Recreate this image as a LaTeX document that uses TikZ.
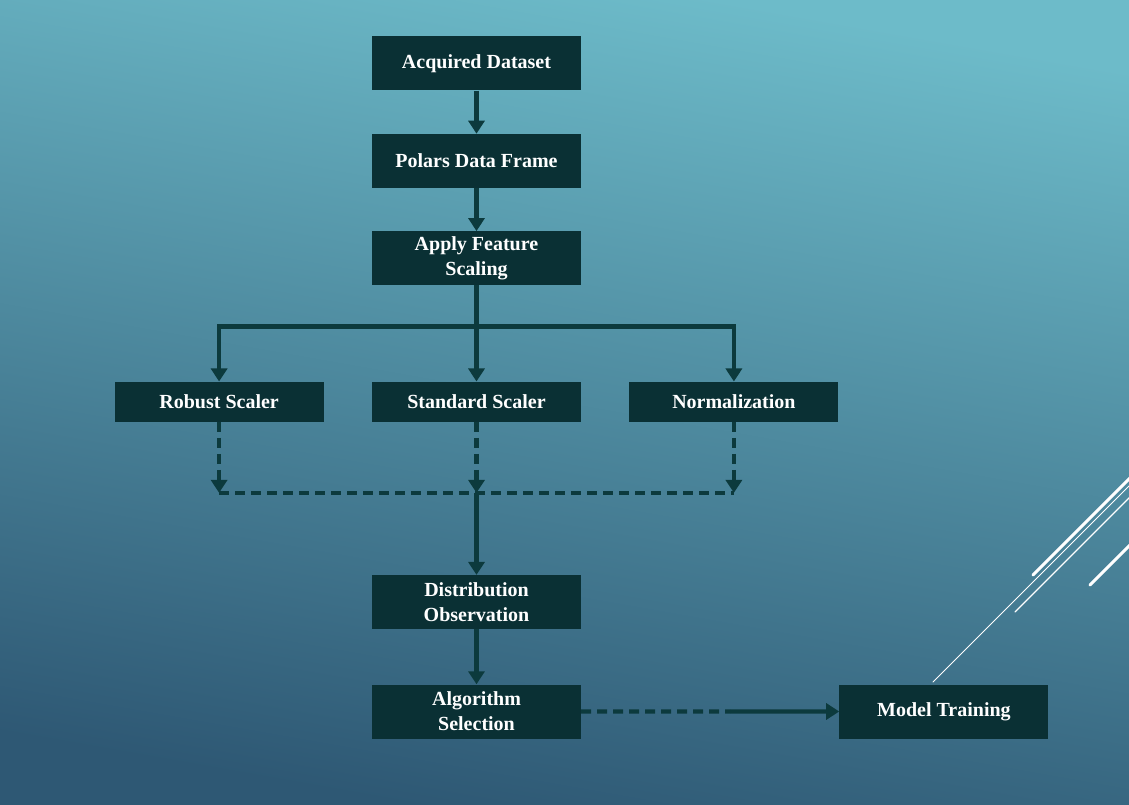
\documentclass[tikz,border=0pt]{standalone}
\usepackage{fontspec}
\setmainfont{Liberation Serif}
\usetikzlibrary{arrows.meta,calc,positioning}
\definecolor{boksfarve}{HTML}{0A3034}
\definecolor{pilfarve}{HTML}{0C3A3D}
\definecolor{topfarve}{HTML}{6DBBC9}
\definecolor{bundfarve}{HTML}{2E5874}
\tikzset{
    >={Triangle[width=16pt,length=13pt]},
    boks/.style={
           rectangle,
           fill=boksfarve,
           text=white,
           minimum width=209pt,
           minimum height=54pt,
           inner sep=0pt,
           align=center,
           font=\fontsize{20}{25}\selectfont\bfseries},
    lav/.style={
           minimum height=40pt},
    pil/.style={
           ->,
           draw=pilfarve,
           line width=4.2pt},
    stipl/.style={
           draw=pilfarve,
           line width=4.2pt,
           dash pattern=on 10pt off 6pt},
    streg/.style={
           draw=white,
           line cap=round}
}
\begin{document}
\begin{tikzpicture}[x=1pt, y=1pt, node distance=43pt]
        \shade[top color=topfarve, bottom color=bundfarve, shading angle=-10] (0,0) rectangle (1129,804);
        \useasboundingbox (0,0) rectangle (1129,804);
        \begin{scope}
            \clip (0,0) rectangle (1129,804);
            \draw[streg, line width=3pt] (1033,229) -- (1131,327);
            \draw[streg, line width=3pt] (1090,219) -- (1131,260);
            \draw[streg, line width=1pt] (933,122) -- (1131,320);
            \draw[streg, line width=1.2pt] (1015,192) -- (1131,308);
        \end{scope}

        \node[boks] (acq) at (476.5,740.5) {Acquired Dataset};
        \node[boks, below=of acq] (pol) {Polars Data Frame};
        \node[boks, below=of pol] (app) {Apply Feature\\Scaling};
        \node[boks, lav, below=96pt of app] (std) {Standard Scaler};
        \node[boks, lav, left=48pt of std] (rob) {Robust Scaler};
        \node[boks, lav, right=48pt of std] (nor) {Normalization};
        \node[boks, below=153pt of std] (dis) {Distribution\\Observation};
        \node[boks, below=55pt of dis] (alg) {Algorithm\\Selection};
        \node[boks, right=258pt of alg] (mod) {Model Training};

        \coordinate (split) at ($(app.south)+(0,-41)$);
        \coordinate (saml) at ($(std.south)+(0,-71)$);
        \coordinate (halv) at ($(alg.east)!0.58!(mod.west)$);

        \draw[pil] (acq) -- (pol);
        \draw[pil] (pol) -- (app);
        \draw[pil] (app) -- (std);
        \draw[pil] (split) -| (rob);
        \draw[pil] (split) -| (nor);
        \draw[stipl] (rob |- saml) -- (nor |- saml);
        \draw[stipl, ->] (rob) -- (rob |- saml);
        \draw[stipl, ->] (std) -- (saml);
        \draw[stipl, ->] (nor) -- (nor |- saml);
        \draw[pil] (saml) -- (dis);
        \draw[pil] (dis) -- (alg);
        \draw[stipl] (alg) -- (halv);
        \draw[pil] (halv) -- (mod);

    \end{tikzpicture}
\end{document}
